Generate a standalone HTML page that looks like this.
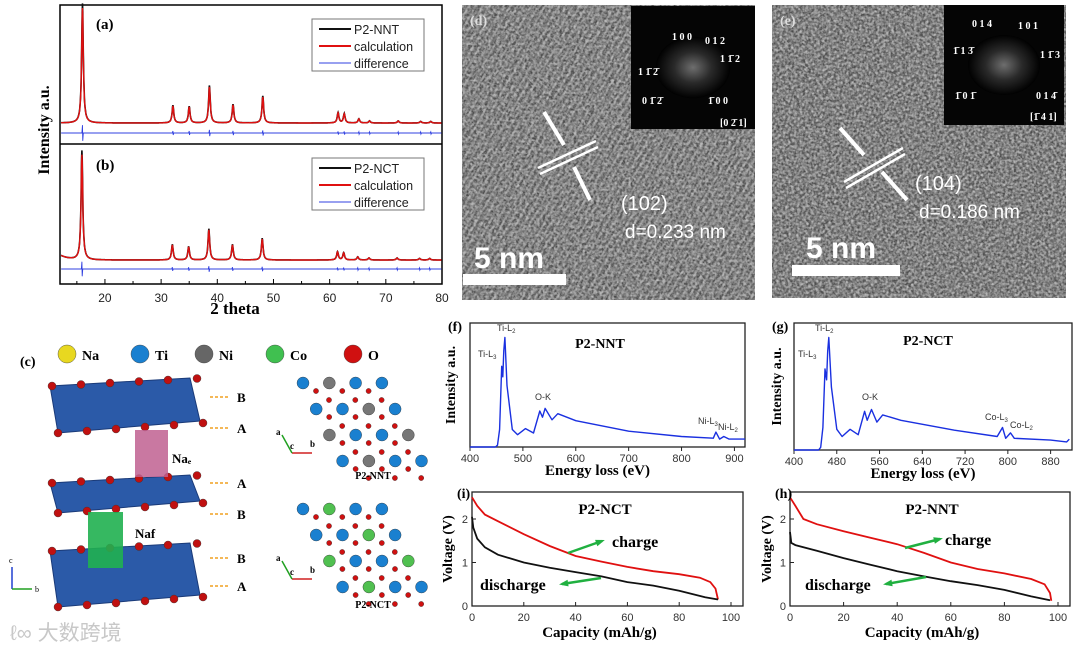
<!DOCTYPE html>
<html><head><meta charset="utf-8"><style>
html,body{margin:0;background:#fff;width:1080px;height:652px;overflow:hidden;}
svg{display:block;}
.ser{font-family:"Liberation Serif",serif;}
.san{font-family:"Liberation Sans",sans-serif;}
</style></head><body>
<svg id="fig" xmlns="http://www.w3.org/2000/svg" width="1080" height="652" viewBox="0 0 1080 652">
<defs>
<filter id="noise" x="0" y="0" width="100%" height="100%">
<feTurbulence type="fractalNoise" baseFrequency="0.55" numOctaves="2" seed="3"/>
<feColorMatrix type="matrix" values="0 0 0 0 0.45  0 0 0 0 0.45  0 0 0 0 0.45  1.2 1.2 1.2 0 -1.4"/>
</filter>
<filter id="noise2" x="0" y="0" width="100%" height="100%">
<feTurbulence type="fractalNoise" baseFrequency="0.35" numOctaves="1" seed="7"/>
<feColorMatrix type="matrix" values="0 0 0 0 0.95  0 0 0 0 0.95  0 0 0 0 0.95  2 2 2 0 -2.6"/>
</filter>
<pattern id="lat1" width="6" height="6" patternUnits="userSpaceOnUse" patternTransform="rotate(-60)"><rect width="6" height="2" fill="#9a9a9a" opacity="0.5"/></pattern>
<pattern id="dots" width="5" height="5" patternUnits="userSpaceOnUse" patternTransform="rotate(-30)"><circle cx="2.5" cy="2.5" r="1.1" fill="#a8a8a8" opacity="0.6"/></pattern>
<radialGradient id="fft"><stop offset="0" stop-color="#888"/><stop offset="0.5" stop-color="#333"/><stop offset="1" stop-color="#000"/></radialGradient>
</defs>
<g id="xrd"></g>
<g id="struct"></g>
<g id="tem"></g>
<g id="eels"></g>
<g id="volt"></g>
</svg>
<script>
// ---- XRD data ----
const xrdTicks=[20,30,40,50,60,70,80];
const peaksPosA=[16.0,32.1,35.0,38.6,42.8,48.1,61.5,62.6,65.2,67.1,72.2,76.2,78.0];
const peaksHtA=[115,17,16,36,18,26,10,9,4,2,2,1.5,1.5];
const peaksPosB=[15.9,32.0,34.9,38.5,42.7,48.0,61.4,62.5,65.0,67.0,72.0,76.0,77.8];
const peaksHtB=[105,15,13,30,15,21,8,7,3,2,2,1.5,1.5];
// ---- EELS data ----
const eelsE_f=[400,448,452,456,460,462,464,466,470,480,490,505,520,532,537,542,555,566,600,700,800,860,865,872,880,890,920];
const eelsI_f=[0,0,2,20,92,80,110,125,70,20,14,21,16,41,34,44,31,38,30,18,12,10,17,9,12,9,9];
const eelsE_g=[400,446,450,454,458,461,463,465,470,480,490,505,520,532,537,545,555,566,600,700,780,790,796,805,812,880,910,915];
const eelsI_g=[0,0,3,25,90,78,110,125,70,23,15,23,17,43,33,45,31,39,33,22,15,25,13,19,13,11,9,12];
// ---- Voltage data ----
const capChgI=[0,2,5,10,20,30,40,50,60,70,80,88,92,94,95];
const vChgI=[2.5,2.3,2.1,1.95,1.65,1.38,1.15,1.02,0.9,0.8,0.73,0.65,0.55,0.4,0.15];
const capDisI=[0,0.5,2,5,10,20,30,40,50,60,70,80,90,95];
const vDisI=[2.05,1.8,1.55,1.35,1.18,1.0,0.88,0.78,0.68,0.55,0.47,0.35,0.2,0.15];
const capChgH=[0,2,5,10,20,30,40,50,60,70,80,90,95,97,97.5];
const vChgH=[2.5,2.3,2.0,1.88,1.72,1.57,1.42,1.22,1.0,0.85,0.75,0.62,0.5,0.3,0.12];
const capDisH=[0,0.5,2,10,20,30,40,50,60,70,80,90,97];
const vDisH=[1.7,1.45,1.4,1.27,1.1,0.95,0.8,0.68,0.57,0.48,0.37,0.22,0.13];
const capTicks=[0,20,40,60,80,100];
const vTicks=[0,1,2];

const NS="http://www.w3.org/2000/svg";
function mk(parent,tag,attrs,text){const e=document.createElementNS(NS,tag);for(const k in attrs)e.setAttribute(k,attrs[k]);if(text!==undefined)e.textContent=text;parent.appendChild(e);return e;}

// ===== XRD =====
(function(){
const g=document.getElementById('xrd');
const x=v=>60+(v-12)*(382/68);
const F=mk(g,'rect',{x:60,y:5,width:382,height:279,fill:'none',stroke:'#000','stroke-width':1.5});


mk(g,'line',{x1:60,y1:144,x2:442,y2:144,stroke:'#000','stroke-width':1.5});
xrdTicks.forEach(t=>{
 const tk=mk(g,'line',{x1:x(t),y1:284,x2:x(t),y2:279,stroke:'#000'});
 
 
 const lb=mk(g,'text',{x:x(t),y:302,'text-anchor':'middle','font-size':12,class:'san',fill:'#222'},t);
 
 
});
[15,25,35,45,55,65,75].forEach(t=>mk(g,'line',{x1:x(t),y1:284,x2:x(t),y2:281,stroke:'#000'}));
function prof(pos,ht,base,scale,bump){let d='';for(let v=12.2;v<=79.9;v+=0.05){let s=0;for(let i=0;i<pos.length;i++){const w=0.18;s+=ht[i]*scale/(1+((v-pos[i])/w)**2);}if(bump)s+=5*Math.exp(-(v-12)/1.5);d+=(d?'L':'M')+x(v).toFixed(1)+','+(base-s).toFixed(1);}return d;}
function diff(pos,ht,base){let d='M'+x(12.2)+','+base;pos.forEach((p,i)=>{const a=Math.min(8,ht[i]*0.06+1);d+='L'+x(p-0.1)+','+base+'L'+x(p)+','+(base-a)+'L'+x(p+0.05)+','+(base+a)+'L'+x(p+0.15)+','+base;});d+='L'+x(79.9)+','+base;return d;}
[[peaksPosA,peaksHtA,123,133,'a'],[peaksPosB,peaksHtB,260,269,'b']].forEach(([p,h,b,db,nm])=>{
 const o=mk(g,'path',{d:prof(p,h,b,1.04,nm==='b'),fill:'none',stroke:'#111','stroke-width':1.6});
 
 
 const c=mk(g,'path',{d:prof(p,h,b,1.0,nm==='b'),fill:'none',stroke:'#e01010','stroke-width':1.4});
 
 
 const df=mk(g,'path',{d:diff(p,h,db),fill:'none',stroke:'#3040e0','stroke-width':0.9});
 
 
});
mk(g,'text',{x:96,y:29,'font-size':15,'font-weight':'bold',class:'ser'},'(a)');
mk(g,'text',{x:96,y:170,'font-size':15,'font-weight':'bold',class:'ser'},'(b)');
[[19,'P2-NNT'],[158,'P2-NCT']].forEach(([y0,n])=>{
 const lg=mk(g,'g',{});
 
 
 mk(lg,'rect',{x:312,y:y0,width:112,height:52,fill:'#fff',stroke:'#777'});
 [[n,'#111',2],['calculation','#e01010',2],['difference','#3040e0',1]].forEach(([t,c,w],i)=>{
  const yy=y0+10+i*17;
  mk(lg,'line',{x1:319,y1:yy,x2:351,y2:yy,stroke:c,'stroke-width':w});
  mk(lg,'text',{x:354,y:yy+5,'font-size':12.5,class:'san',fill:'#222'},t);
 });
});
mk(g,'text',{x:49,y:130,'font-size':16,'font-weight':'bold',class:'ser','text-anchor':'middle',transform:'rotate(-90 49 130)'},'Intensity a.u.');
mk(g,'text',{x:235,y:314,'font-size':17,'font-weight':'bold',class:'ser','text-anchor':'middle'},'2 theta');
})();

// ===== Structure =====
(function(){
const g=document.getElementById('struct');
const ball=(cx,cy,r,c)=>mk(g,'circle',{cx,cy,r,fill:c,stroke:'#333','stroke-width':0.4});
mk(g,'text',{x:20,y:366,'font-size':14,'font-weight':'bold',class:'ser'},'(c)');
[[67,'#e8d820','Na'],[140,'#1a80d0','Ti'],[204,'#666','Ni'],[275,'#40c050','Co'],[353,'#d01010','O']].forEach(([cx,c,t])=>{ball(cx,354,9,c);mk(g,'text',{x:cx+15,y:360,'font-size':14,'font-weight':'bold',class:'ser'},t);});
[[378,433],[475,513],[543,607]].forEach(([a,b],k)=>{
 const s=mk(g,'polygon',{points:`50,${a+8} 190,${a} 200,${b-12} 58,${b}`,fill:'#2b5aa8',stroke:'#1a3a78'});
 
 
 for(let i=0;i<6;i++){ball(52+i*29,a+8-i*1.5,4,'#c01010');ball(58+i*29,b-i*2,4,'#c01010');}
});
mk(g,'rect',{x:135,y:430,width:33,height:47,fill:'#c06090',opacity:0.85});
mk(g,'rect',{x:88,y:512,width:35,height:56,fill:'#20b050',opacity:0.9});
mk(g,'text',{x:172,y:463,'font-size':13,'font-weight':'bold',class:'ser'},'Naₑ');
mk(g,'text',{x:135,y:538,'font-size':13,'font-weight':'bold',class:'ser'},'Naf');
[[401,'B'],[432,'A'],[487,'A'],[518,'B'],[562,'B'],[590,'A']].forEach(([y,t])=>{mk(g,'line',{x1:210,y1:y-4,x2:230,y2:y-4,stroke:'#f0a020','stroke-dasharray':'3,2','stroke-width':1.5});mk(g,'text',{x:237,y:y+1,'font-size':13,'font-weight':'bold',class:'ser'},t);});
const pat=[['B','X','B','B'],['B','B','X','B'],['X','B','B','X'],['B','X','B','B']];
[[383,'#777','P2-NNT',479],[509,'#50c050','P2-NCT',608]].forEach(([y0,xc,lab,ly])=>{
 for(let r=0;r<4;r++){for(let c=0;c<4;c++){const cx=303+r*13.2+c*26.3,cy=y0+r*26;
  if(c<3){ball(cx+13,cy+8,2.6,'#d01010');ball(cx+26,cy+17,2.6,'#d01010');}
  ball(cx,cy,6,pat[r][c]==='B'?'#1a80d0':xc);}}
 mk(g,'text',{x:373,y:ly,'font-size':10,'font-weight':'bold',class:'ser','text-anchor':'middle'},lab);
 const ay=y0+70;
 mk(g,'line',{x1:292,y1:ay,x2:312,y2:ay,stroke:'#d02020','stroke-width':1.5});
 mk(g,'line',{x1:292,y1:ay,x2:282,y2:ay-18,stroke:'#20a020','stroke-width':1.5});
 mk(g,'text',{x:276,y:ay-18,'font-size':9,'font-weight':'bold',class:'ser'},'a');
 mk(g,'text',{x:310,y:ay-6,'font-size':9,'font-weight':'bold',class:'ser'},'b');
 mk(g,'text',{x:290,y:ay-4,'font-size':9,'font-weight':'bold',class:'ser'},'c');
});
mk(g,'line',{x1:12,y1:589,x2:12,y2:567,stroke:'#2040d0','stroke-width':1.5});
mk(g,'line',{x1:12,y1:589,x2:32,y2:589,stroke:'#20a020','stroke-width':1.5});
mk(g,'text',{x:9,y:563,'font-size':8,class:'ser'},'c');
mk(g,'text',{x:35,y:592,'font-size':8,class:'ser'},'b');
const wm=mk(g,'text',{x:10,y:640,'font-size':21,class:'san',fill:'#c8c8c8','font-family':'"Liberation Sans","Noto Sans CJK SC",sans-serif'},'ℓ∞ 大数跨境');


})();

// ===== TEM =====
(function(){
const g=document.getElementById('tem');
function panel(x0,y0,w,h,ix,iy,iw,ih,lab,idx,miller,dtxt,lines,barx,bary,barw,nmx,nmy,mx,my,labels){
 const p=mk(g,'g',{});
 
 
 mk(p,'rect',{x:x0,y:y0,width:w,height:h,fill:'#4a4a4a'});
 mk(p,'rect',{x:x0,y:y0,width:w,height:h,fill:idx?'url(#dots)':'url(#lat1)'});
 mk(p,'rect',{x:x0,y:y0,width:w,height:h,filter:'url(#noise)',opacity:0.6});
 mk(p,'rect',{x:x0,y:y0,width:w,height:h,filter:'url(#noise2)',opacity:0.4});
 mk(p,'rect',{x:ix,y:iy,width:iw,height:ih,fill:'#050505'});
 mk(p,'ellipse',{cx:ix+iw/2,cy:iy+ih/2,rx:iw*0.3,ry:ih*0.25,fill:'url(#fft)',opacity:0.8});
 labels.forEach(([tx,ty,t])=>mk(p,'text',{x:tx,y:ty,'font-size':10,'font-weight':'bold',class:'ser',fill:'#fff'},t));
 mk(p,'text',{x:x0+8,y:y0+20,'font-size':14,'font-weight':'bold',class:'ser',fill:'#ddd'},'('+lab+')');
 lines.forEach(l=>mk(p,'line',{x1:l[0],y1:l[1],x2:l[2],y2:l[3],stroke:'#fff','stroke-width':l[4]||2.5}));
 mk(p,'text',{x:mx,y:my,'font-size':20,class:'san',fill:'#fff'},miller);
 mk(p,'text',{x:mx+4,y:my+28,'font-size':19,class:'san',fill:'#fff'},dtxt);
 mk(p,'text',{x:nmx,y:nmy,'font-size':30,'font-weight':'bold',class:'san',fill:'#fff'},'5 nm');
 mk(p,'rect',{x:barx,y:bary,width:barw,height:11,fill:'#fff'});
}
panel(462,5,293,295,631,6,124,123,'d',0,'(102)','d=0.233 nm',
 [[538,168,596,141],[540,174,598,147],[544,112,564,145,4],[590,200,574,167,4]],463,274,103,474,268,621,210,
 [[672,40,'1 0 0'],[705,44,'0 1 2'],[720,62,'1 1̄ 2'],[638,75,'1 1̄ 2̄'],[642,104,'0 1̄ 2̄'],[708,104,'1̄ 0 0'],[720,126,'[0 2̄ 1]']]);
panel(772,5,294,293,944,5,120,120,'e',1,'(104)','d=0.186 nm',
 [[844,182,903,148],[846,188,905,154],[840,128,864,155,4],[907,200,882,172,4]],792,265,108,806,258,915,190,
 [[972,27,'0 1 4'],[1018,29,'1 0 1'],[953,54,'1̄ 1 3̄'],[1040,58,'1 1̄ 3'],[955,99,'1̄ 0 1̄'],[1036,99,'0 1 4̄'],[1030,120,'[1̄ 4 1]']]);
})();

// ===== EELS =====
(function(){
const g=document.getElementById('eels');
function panel(L,T,R,B,emin,emax,ticks,E,I,top,lab,title,tx,ty,notes,ylx){
 const x=v=>L+(v-emin)/(emax-emin)*(R-L);
 const y=v=>B-v/130*(B-top);
 const fr=mk(g,'rect',{x:L,y:T,width:R-L,height:B-T,fill:'none',stroke:'#222','stroke-width':1.3});
 
 
 ticks.forEach(t=>{const tl=mk(g,'text',{x:x(t),y:B+15,'font-size':11,class:'san','text-anchor':'middle',fill:'#333'},t);
  
  
  mk(g,'line',{x1:x(t),y1:B,x2:x(t),y2:B+4,stroke:'#222'});});
 let d='';E.forEach((e,i)=>{d+=(i?'L':'M')+x(e).toFixed(1)+','+y(I[i]).toFixed(1);});
 const s=mk(g,'path',{d,fill:'none',stroke:'#1a30e0','stroke-width':1.4,'stroke-linejoin':'round'});
 
 
 mk(g,'text',{x:L-22,y:T+8,'font-size':14,'font-weight':'bold',class:'ser'},'('+lab+')');
 mk(g,'text',{x:tx,y:ty,'font-size':14,'font-weight':'bold',class:'ser','text-anchor':'middle'},title);
 notes.forEach(([nx,ny,t,sub])=>{const te=mk(g,'text',{x:nx,y:ny,'font-size':9,class:'san',fill:'#333'},t);if(sub)mk(te,'tspan',{'font-size':6,dy:2},sub);});
 mk(g,'text',{x:ylx,y:(T+B)/2,'font-size':14,'font-weight':'bold',class:'ser','text-anchor':'middle',transform:`rotate(-90 ${ylx} ${(T+B)/2})`},'Intensity a.u.');
 mk(g,'text',{x:(L+R)/2-10,y:B+28,'font-size':15,'font-weight':'bold',class:'ser','text-anchor':'middle'},'Energy loss (eV)');
}
panel(470,323,745,447,400,920,[400,500,600,700,800,900],eelsE_f,eelsI_f,333,'f','P2-NNT',600,348,
 [[478,357,'Ti-L','3'],[497,331,'Ti-L','2'],[535,400,'O-K'],[698,424,'Ni-L','3'],[718,430,'Ni-L','2']],455);
panel(794,323,1072,450,400,920,[400,480,560,640,720,800,880],eelsE_g,eelsI_g,333,'g','P2-NCT',928,345,
 [[798,357,'Ti-L','3'],[815,331,'Ti-L','2'],[862,400,'O-K'],[985,420,'Co-L','3'],[1010,428,'Co-L','2']],781);
})();

// ===== Voltage =====
(function(){
const g=document.getElementById('volt');
function panel(L,R,X100,T,B,cc,vc,cd,vd,lab,title,tx,annot,ylx){
 const x=v=>L+v/100*(X100-L);
 const y=v=>B-v/2*(B-519);
 const fr=mk(g,'rect',{x:L,y:T,width:R-L,height:B-T,fill:'none',stroke:'#222','stroke-width':1.3});
 
 
 capTicks.forEach(t=>{const tl=mk(g,'text',{x:x(t),y:B+15,'font-size':11,class:'san','text-anchor':'middle',fill:'#333'},t);
  
  
  mk(g,'line',{x1:x(t),y1:B,x2:x(t),y2:B-4,stroke:'#222'});});
 vTicks.forEach(t=>{const tl=mk(g,'text',{x:L-4,y:y(t)+4,'font-size':11,class:'san','text-anchor':'end',fill:'#333'},t);
  
  
  mk(g,'line',{x1:L,y1:y(t),x2:L+4,y2:y(t),stroke:'#222'});});
 const path=(c,v)=>c.map((e,i)=>(i?'L':'M')+x(e).toFixed(1)+','+y(v[i]).toFixed(1)).join('');
 const ch=mk(g,'path',{d:path(cc,vc),fill:'none',stroke:'#e01010','stroke-width':1.8});
 
 
 const ds=mk(g,'path',{d:path(cd,vd),fill:'none',stroke:'#111','stroke-width':1.8});
 
 
 mk(g,'text',{x:L-15,y:T+6,'font-size':14,'font-weight':'bold',class:'ser'},'('+lab+')');
 mk(g,'text',{x:tx,y:T+22,'font-size':15,'font-weight':'bold',class:'ser','text-anchor':'middle'},title);
 const [cx,cy,a1,dx,dy,a2]=annot;
 mk(g,'text',{x:cx,y:cy,'font-size':16,'font-weight':'bold',class:'ser'},'charge');
 mk(g,'text',{x:dx,y:dy,'font-size':16,'font-weight':'bold',class:'ser'},'discharge');
 [a1,a2].forEach(a=>{mk(g,'line',{x1:a[0],y1:a[1],x2:a[2],y2:a[3],stroke:'#20b040','stroke-width':2.5});
  const ang=Math.atan2(a[3]-a[1],a[2]-a[0]),h=7;
  mk(g,'polygon',{points:`${a[2]+Math.cos(ang)*3},${a[3]+Math.sin(ang)*3} ${a[2]-Math.cos(ang-0.5)*h},${a[3]-Math.sin(ang-0.5)*h} ${a[2]-Math.cos(ang+0.5)*h},${a[3]-Math.sin(ang+0.5)*h}`,fill:'#20b040'});});
 mk(g,'text',{x:ylx,y:(T+B)/2,'font-size':14,'font-weight':'bold',class:'ser','text-anchor':'middle',transform:`rotate(-90 ${ylx} ${(T+B)/2})`},'Voltage (V)');
 mk(g,'text',{x:(L+R)/2-8,y:B+31,'font-size':15,'font-weight':'bold',class:'ser','text-anchor':'middle'},'Capacity (mAh/g)');
}
panel(472,743,731,492,606,capChgI,vChgI,capDisI,vDisI,'i','P2-NCT',605,
 [612,547,[568,553,602,541],480,590,[601,578,562,584]],452);
panel(790,1070,1058,492,606,capChgH,vChgH,capDisH,vDisH,'h','P2-NNT',932,
 [945,545,[905,548,940,539],805,590,[926,577,886,584]],771);
})();
</script>
</body></html>
